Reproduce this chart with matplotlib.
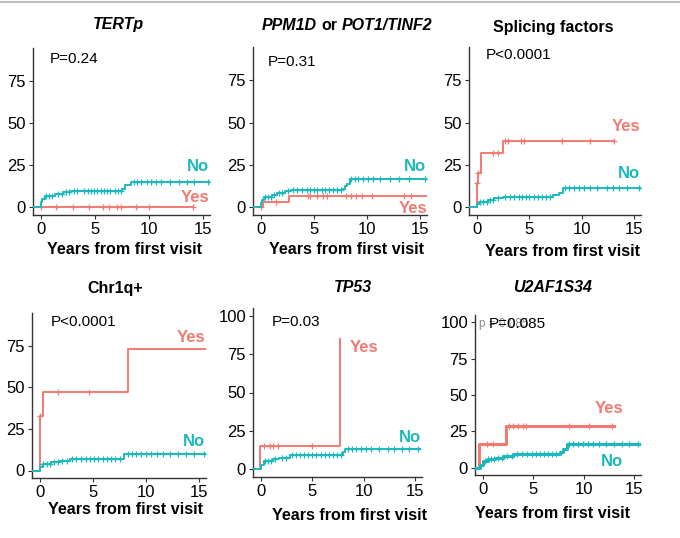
import numpy as np
import matplotlib
matplotlib.use("Agg")
import matplotlib.pyplot as plt
from matplotlib.offsetbox import TextArea, HPacker, AnchoredOffsetbox, AnnotationBbox

plt.rcParams['font.family'] = ['Liberation Sans', 'DejaVu Sans']

COL_NO = "#1DB8BC"
COL_YES = "#F07B72"

# ---------------- data (cumulative incidence, %) ----------------
titles = ["TERTp", "PPM1D or POT1/TINF2", "Splicing factors", "Chr1q+", "TP53", "U2AF1S34"]
pvalues = ["P=0.24", "P=0.31", "P<0.0001", "P<0.0001", "P=0.03", "P=0.085"]
xticks = [0, 5, 10, 15]
yticks_top = [0, 25, 50, 75]
yticks_bottom = [0, 25, 50, 75, 100]

# TERTp
tert_no_t = [-0.75, 0.0, 0.1, 0.3, 0.8, 1.3, 2.0, 2.8, 7.5, 7.8, 8.3, 15.65]
tert_no_v = [0, 3, 5, 6.5, 7, 8, 9, 10, 11, 13, 15, 15]
tert_no_c = [0.4, 0.7, 1.0, 1.5, 1.9, 2.3, 2.6, 3.0, 3.3, 4.0, 4.3, 4.6, 4.9, 5.2, 5.5,
             5.8, 6.1, 6.4, 6.8, 7.1, 7.4, 8.6, 8.9, 9.3, 9.8, 10.2, 10.7, 11.1, 12.0,
             12.8, 13.5, 14.2, 15.5]
tert_yes_t = [-0.2, 14.1]
tert_yes_v = [0, 0]
tert_yes_c = [0.0, 1.4, 2.9, 4.4, 5.7, 6.3, 7.0, 7.4, 8.8, 10.0, 14.1]

# PPM1D or POT1/TINF2
ppm_no_t = [-0.75, 0.0, 0.1, 0.3, 1.0, 1.5, 2.2, 2.8, 7.7, 7.9, 8.1, 8.4, 15.68]
ppm_no_v = [0, 2.5, 4.5, 6.4, 7.4, 8.4, 9.4, 10.2, 11, 12.3, 14, 16.6, 16.6]
ppm_no_c = [0.4, 0.6, 0.9, 1.2, 1.7, 2.0, 2.5, 3.0, 3.4, 3.9, 4.3, 4.6, 5.0, 5.3, 5.7,
            6.0, 6.4, 6.8, 7.2, 7.5, 8.5, 8.9, 9.2, 9.6, 10.1, 10.6, 11.2, 12.2, 13.0,
            14.0, 15.5]
ppm_yes_t = [-0.2, 0.2, 2.6, 15.68]
ppm_yes_v = [0, 3, 6.5, 6.5]
ppm_yes_c = [0.0, 1.4, 4.4, 4.6, 5.3, 5.8, 6.2, 8.0, 8.5, 9.0, 9.5, 10.5, 13.5, 14.2]

# Splicing factors
spl_no_t = [-0.75, 0.0, 0.2, 1.0, 1.6, 2.5, 7.3, 7.8, 8.2, 15.68]
spl_no_v = [0, 2, 3.4, 4.4, 5.4, 6.2, 7, 8.4, 11.4, 11.4]
spl_no_c = [0.3, 0.6, 0.9, 1.2, 1.5, 2.0, 2.7, 3.1, 3.5, 4.0, 4.3, 4.7, 5.0, 5.4, 5.8,
            6.2, 6.6, 7.0, 8.4, 8.8, 9.3, 9.7, 10.2, 10.8, 11.5, 12.4, 13.0, 13.6,
            14.3, 15.5]
spl_yes_t = [-0.05, 0.0, 0.12, 0.35, 2.5, 13.1]
spl_yes_v = [0, 14.4, 20.4, 32, 39, 39]
spl_yes_c = [0.0, 0.12, 1.5, 2.0, 2.7, 3.0, 4.2, 4.5, 8.1, 10.8, 13.1]

# Chr1q+
chr_no_t = [-0.75, 0.0, 0.3, 1.0, 1.8, 2.8, 7.9, 15.68]
chr_no_v = [0, 2, 4, 5, 6, 7.2, 10, 10]
chr_no_c = [0.3, 0.6, 0.9, 1.3, 1.7, 2.1, 2.5, 3.0, 3.4, 3.9, 4.3, 4.7, 5.1, 5.5, 5.9,
            6.3, 6.7, 7.1, 7.5, 8.3, 8.7, 9.1, 9.5, 10.0, 10.5, 11.0, 11.6, 12.3,
            13.0, 13.8, 14.5, 15.5]
chr_yes_t = [-0.1, -0.05, 0.25, 8.3, 15.68]
chr_yes_v = [0, 33, 47, 73, 73]
chr_yes_c = [0.0, 1.7, 4.6]

# TP53
tp_no_t = [-0.75, 0.0, 0.3, 1.2, 1.8, 2.8, 8.0, 8.2, 15.5]
tp_no_v = [0, 3, 5.4, 6.5, 7.5, 9, 11, 13, 13]
tp_no_c = [0.4, 0.7, 1.0, 1.4, 2.0, 2.4, 3.0, 3.4, 3.8, 4.2, 4.6, 5.0, 5.4, 5.8, 6.2,
           6.6, 7.0, 7.4, 7.8, 8.5, 8.9, 9.3, 9.7, 10.2, 10.7, 11.5, 12.4, 13.0,
           13.7, 14.4, 15.3]
tp_yes_t = [-0.12, -0.08, 7.7]
tp_yes_v = [0, 15, 85]
tp_yes_c = [0.3, 0.9, 1.2, 1.7, 5.0]

# U2AF1S34
u2_no_t = [-0.75, -0.3, 0.0, 0.5, 1.2, 2.0, 3.0, 7.6, 7.9, 8.3, 15.68]
u2_no_v = [0, 2, 4.5, 6, 7, 8.4, 9.3, 11, 13, 16.5, 16.5]
u2_no_c = [0.2, 0.5, 0.8, 1.1, 1.5, 1.9, 2.4, 2.9, 3.4, 3.9, 4.4, 4.9, 5.3, 5.7, 6.1,
           6.5, 6.9, 7.3, 8.5, 8.9, 9.4, 9.9, 10.4, 10.9, 11.5, 12.2, 13.0, 13.8,
           14.5, 15.4]
u2_yes_t = [-0.4, -0.35, 2.3, 13.0]
u2_yes_v = [0, 16.6, 29, 29]
u2_yes_c = [0.4, 1.0, 2.6, 3.0, 3.5, 4.0, 4.3, 8.5, 10.5, 12.8]

panels = [
    (tert_no_t, tert_no_v, tert_no_c, tert_yes_t, tert_yes_v, tert_yes_c),
    (ppm_no_t, ppm_no_v, ppm_no_c, ppm_yes_t, ppm_yes_v, ppm_yes_c),
    (spl_no_t, spl_no_v, spl_no_c, spl_yes_t, spl_yes_v, spl_yes_c),
    (chr_no_t, chr_no_v, chr_no_c, chr_yes_t, chr_yes_v, chr_yes_c),
    (tp_no_t, tp_no_v, tp_no_c, tp_yes_t, tp_yes_v, tp_yes_c),
    (u2_no_t, u2_no_v, u2_no_c, u2_yes_t, u2_yes_v, u2_yes_c),
]

# ---------------- layout (pixels in a 680x538 image) ----------------
W, H = 680, 538
axes_px = [(33, 210, 48, 215), (253, 427, 47, 215), (469, 641, 47, 215),
           (32, 206, 313, 478), (253, 422, 308, 477), (475, 641, 315, 475)]
title_px = [(118, 25), (347, 26), (553, 28), (115, 288), (353, 288), (553, 288)]
xlabel_px = [(125, 250), (347, 250), (563, 251), (126, 509), (350, 516), (553, 514)]
ylims = [(-4.5, 94.5)] * 4 + [(-5, 105)] * 2
pv_pos = [(0.77, 88), (0.63, 85.5), (0.84, 90), (1.0, 89), (1.05, 95.7), (0.54, 98.9)]
no_lab = [(15.6, 24), (15.6, 24), (15.6, 20), (15.6, 17.6), (15.6, 20.4), (13.9, 4.5)]
yes_lab = [(15.6, 6), (15.75, -0.8), (15.6, 47.8), (15.6, 80), (8.6, 79.6), (13.9, 41)]
yes_ha = ["right", "right", "right", "right", "left", "right"]
title_italic = ["italic", None, "normal", "normal", "italic", "italic"]
lw = [1.4, 1.4, 1.4, 1.4, 1.4, 2.2]

TITLE_FS = 11.5
fig = plt.figure(figsize=(W / 100, H / 100), dpi=100)
fig.add_artist(plt.Line2D([0, 1], [1 - 1.5 / H, 1 - 1.5 / H], color="#b0b0b0", lw=1.2))


def value_at(t, ts, vs):
    i = np.searchsorted(np.asarray(ts), t, side="right") - 1
    i = np.clip(i, 0, len(vs) - 1)
    return np.asarray(vs)[i]


for k, (nt, nv, nc, yt, yv, yc) in enumerate(panels):
    l, r, t, b = axes_px[k]
    ax = fig.add_axes([l / W, 1 - b / H, (r - l) / W, (b - t) / H])
    ax.set_xlim(-0.78, 15.68)
    ax.set_ylim(*ylims[k])
    ax.set_xticks(xticks)
    ax.set_yticks(yticks_top if k < 4 else yticks_bottom)
    for s in ["top", "right"]:
        ax.spines[s].set_visible(False)
    for s in ["left", "bottom"]:
        ax.spines[s].set_color("#333333")
        ax.spines[s].set_linewidth(1.0)
    ax.tick_params(axis="both", length=3, width=0.8, color="#333333", labelsize=12,
                   labelcolor="black", pad=2)
    ax.patch.set_alpha(0)

    ax.step(yt, yv, where="post", color=COL_YES, lw=lw[k], zorder=3)
    ax.step(nt, nv, where="post", color=COL_NO, lw=lw[k], zorder=4)
    ax.plot(yc, value_at(np.array(yc), yt, yv), ls="none", marker="+", ms=5, mew=0.9,
            color=COL_YES, zorder=3)
    ax.plot(nc, value_at(np.array(nc), nt, nv), ls="none", marker="+", ms=5, mew=0.9,
            color=COL_NO, zorder=4)

    ax.text(no_lab[k][0], no_lab[k][1], "No", color=COL_NO, fontsize=12,
            fontweight="bold", ha="right", va="center")
    ax.text(yes_lab[k][0], yes_lab[k][1], "Yes", color=COL_YES, fontsize=12,
            fontweight="bold", ha=yes_ha[k], va="center")

    if k == 5:
        ax.text(-0.35, pv_pos[k][1], "p = 0.085", color="#8a8a8a", fontsize=8.5,
                ha="left", va="center")
    ax.text(pv_pos[k][0], pv_pos[k][1], pvalues[k], color="black", fontsize=11,
            ha="left", va="center")

    tx, ty = title_px[k]
    if k == 1:
        parts = titles[k].split(" ")  # ["PPM1D", "or", "POT1/TINF2"]
        styles = ["italic", "normal", "italic"]
        boxes = [TextArea(p, textprops=dict(fontsize=TITLE_FS, fontweight="bold",
                                             fontstyle=st, color="black"))
                 for p, st in zip(parts, styles)]
        pack = HPacker(children=boxes, align="baseline", pad=0, sep=3.5)
        ab = AnnotationBbox(pack, (tx / W, 1 - ty / H), xycoords="figure fraction",
                            frameon=False, box_alignment=(0.5, 0.5), pad=0)
        fig.add_artist(ab)
    else:
        fig.text(tx / W, 1 - ty / H, titles[k], ha="center", va="center",
                 fontsize=TITLE_FS, fontweight="bold", fontstyle=title_italic[k])
    xx, xy = xlabel_px[k]
    fig.text(xx / W, 1 - xy / H, "Years from first visit", ha="center", va="center",
             fontsize=11.6, fontweight="bold")

fig.savefig("out.png", dpi=100)
